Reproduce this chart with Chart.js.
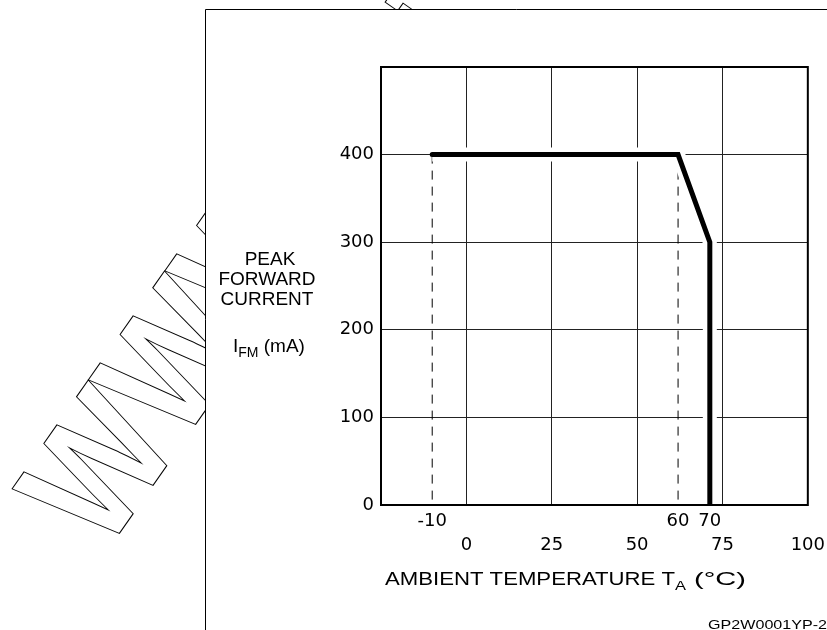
<!DOCTYPE html>
<html>
<head>
<meta charset="utf-8">
<script src="https://cdn.jsdelivr.net/npm/chart.js@4.4.1/dist/chart.umd.min.js"></script>
<style>
  html, body { margin: 0; padding: 0; background: #fff; }
  canvas { display: block; }
</style>
</head>
<body>
<canvas id="derating" width="827" height="630"></canvas>
<script>
    // derating curve, as plotted (the 60/70 marks sit a bit right of true 60/70)
    const tempC = [-10, 62, 71.3, 71.3];
    const currentMA = [400, 400, 300, 0];
    const guideTemps = [-10, 62];
    const guideTop = 400;

    const xTicks = [0, 25, 50, 75, 100];
    const markTicks = [-10, 62, 71.3];
    const markLabels = ["-10", "60", "70"];
    const yTicks = [0, 100, 200, 300, 400];

    const SANS = "'Liberation Sans', Arial, Helvetica, sans-serif";
    const WIDE = "'DejaVu Sans', 'Liberation Sans', sans-serif";
    Chart.defaults.font.family = WIDE;
    Chart.defaults.font.size = 18;
    Chart.defaults.color = "#000";

    const curve = tempC.map((t, i) => ({ x: t, y: currentMA[i] }));

    function guide(t) {
      return {
        data: [{ x: t, y: guideTop }, { x: t, y: 0 }],
        borderColor: "#000",
        borderWidth: 1,
        borderDash: [9, 7],
        pointRadius: 0,
        order: 2,
      };
    }

    // text squeezed / stretched to a given width
    function fitText(c, str, x, y, font, width, align) {
      c.font = font;
      const w = c.measureText(str).width;
      const sx = width ? width / w : 1;
      c.save();
      c.translate(x, y);
      c.scale(sx, 1);
      c.textAlign = align || "left";
      c.fillText(str, 0, 0);
      c.restore();
      return w * sx;
    }

    const extras = {
      id: "extras",
      beforeDraw(chart) {
        const c = chart.ctx;
        c.save();
        c.fillStyle = "#fff";
        c.fillRect(0, 0, chart.width, chart.height);

        // outlined watermark, only visible outside the page frame
        c.beginPath();
        c.rect(0, 0, 205, chart.height);
        c.rect(205, 0, 225, 9);
        c.clip();
        c.translate(105, 554);
        c.rotate(-55 * Math.PI / 180);
        c.scale(1, 1.17);
        c.font = "bold 141px " + SANS;
        c.strokeStyle = "#000";
        c.lineWidth = 0.9;
        c.strokeText("WWW.DataSheet4U.com", 0, 0);
        c.restore();
      },
      afterDraw(chart) {
        const c = chart.ctx;
        const a = chart.chartArea;
        c.save();

        // page frame
        c.strokeStyle = "#000";
        c.lineWidth = 1;
        c.beginPath();
        c.moveTo(chart.width, 9.5);
        c.lineTo(205.5, 9.5);
        c.lineTo(205.5, chart.height);
        c.stroke();

        // plot border
        c.lineWidth = 2;
        c.strokeRect(a.left, a.top, a.right - a.left, a.bottom - a.top);

        c.fillStyle = "#000";
        c.textBaseline = "alphabetic";

        // y title
        c.font = "19px " + SANS;
        c.textAlign = "center";
        c.fillText("PEAK", 270, 265);
        c.fillText("FORWARD", 267, 285);
        c.fillText("CURRENT", 267, 305);
        let x = 233;
        x += fitText(c, "I", x, 352, "19px " + SANS);
        x += fitText(c, "FM", x, 357, "14px " + SANS);
        fitText(c, " (mA)", x, 352, "19px " + SANS);

        // x title, wide lettering as in the sheet
        x = 385;
        x += fitText(c, "AMBIENT TEMPERATURE T", x, 585, "18px " + SANS, 290);
        x += fitText(c, "A", x, 590, "13px " + SANS, 11);
        fitText(c, " (\u00B0C)", x, 585, "18px " + SANS, 60);

        // drawing code
        fitText(c, "GP2W0001YP-27", 708, 629, "13px " + SANS, 128);
        c.restore();
      }
    };

    const ctx = document.getElementById("derating").getContext("2d");
    const chart = new Chart(ctx, {
      type: "line",
      data: {
        datasets: [
          {
            data: curve,
            borderColor: "#000",
            borderWidth: 5,
            borderCapStyle: "round",
            borderJoinStyle: "miter",
            pointRadius: 0,
            order: 0,
          },
          {
            // white halo that breaks the grid around the curve
            data: curve,
            borderColor: "#fff",
            borderWidth: 14,
            pointRadius: 0,
            order: 1,
          },
          guide(guideTemps[0]),
          guide(guideTemps[1]),
        ],
      },
      options: {
        responsive: false,
        animation: false,
        events: [],
        layout: { padding: { top: 67, right: 19, bottom: 67, left: 0 } },
        plugins: {
          legend: { display: false },
          tooltip: { enabled: false },
        },
        scales: {
          x2: {
            type: "linear",
            position: "bottom",
            weight: 0,
            min: -25,
            max: 100,
            afterBuildTicks: (s) => { s.ticks = markTicks.map((v) => ({ value: v })); },
            afterFit: (s) => { s.height = 28; },
            ticks: {
              autoSkip: false,
              maxRotation: 0,
              padding: 6,
              callback: (v, i) => markLabels[i],
            },
            grid: { display: false, drawTicks: false },
            border: { display: false },
          },
          x: {
            type: "linear",
            position: "bottom",
            weight: 1,
            min: -25,
            max: 100,
            afterBuildTicks: (s) => { s.ticks = xTicks.map((v) => ({ value: v })); },
            afterFit: (s) => { s.height = 30; },
            ticks: { autoSkip: false, maxRotation: 0, padding: 2 },
            grid: { color: "#222", lineWidth: 1, drawTicks: false },
            border: { display: false },
          },
          y: {
            position: "left",
            min: 0,
            max: 500,
            afterBuildTicks: (s) => { s.ticks = yTicks.map((v) => ({ value: v })); },
            afterFit: (s) => { s.width = 381; },
            ticks: { padding: 7 },
            grid: { color: "#222", lineWidth: 1, drawTicks: false },
            border: { display: false },
          },
        },
      },
      plugins: [extras],
    });
</script>
</body>
</html>
